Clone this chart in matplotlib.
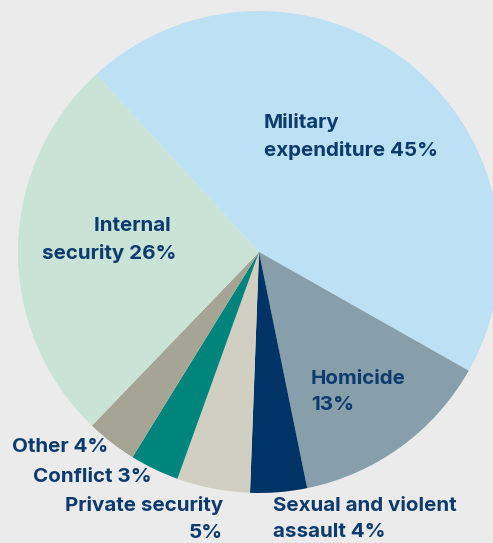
import matplotlib.pyplot as plt

# share of the cost of violence
categories = ['Military expenditure', 'Homicide', 'Sexual and violent assault',
              'Private security', 'Conflict', 'Other', 'Internal security']
shares = [45.0, 13.6, 3.8, 4.9, 3.3, 3.4, 26.0]
label_pct = ['45%', '13%', '4%', '5%', '3%', '4%', '26%']
colors = ['#bde1f4', '#879eab', '#003466', '#d0cfc2', '#00857c', '#a6a595', '#c9e3d7']

W, H = 493, 543
text_color = '#0d3b6e'

fig = plt.figure(figsize=(W / 100, H / 100), dpi=100, facecolor='#ebebeb')
ax = fig.add_axes([0, 0, 1, 1])
ax.set_facecolor('#ebebeb')

ax.pie(shares, colors=colors, startangle=132.5, counterclock=False,
       center=(259, H - 252), radius=241, frame=True,
       wedgeprops=dict(linewidth=0))
ax.set_xlim(0, W)
ax.set_ylim(0, H)
ax.axis('off')

font = dict(family=['Inter', 'DejaVu Sans'], fontsize=14.8, fontweight='bold',
            color=text_color, linespacing=1.6)

def lab(x, y, s, ha='left'):
    ax.text(x, H - y, s, ha=ha, va='center', multialignment=ha, **font)

lab(264, 136, f'Military\nexpenditure {label_pct[0]}')
lab(176, 240, f'Internal \nsecurity {label_pct[6]}', ha='right')
lab(311, 392, f'Homicide\n{label_pct[1]}')
lab(273, 519, f'Sexual and violent\nassault {label_pct[2]}')
lab(223, 519, f'Private security\n{label_pct[3]}', ha='right')
lab(152, 477, f'Conflict {label_pct[4]}', ha='right')
lab(108, 447, f'Other {label_pct[5]}', ha='right')

fig.savefig('out.png', dpi=100, facecolor=fig.get_facecolor())
